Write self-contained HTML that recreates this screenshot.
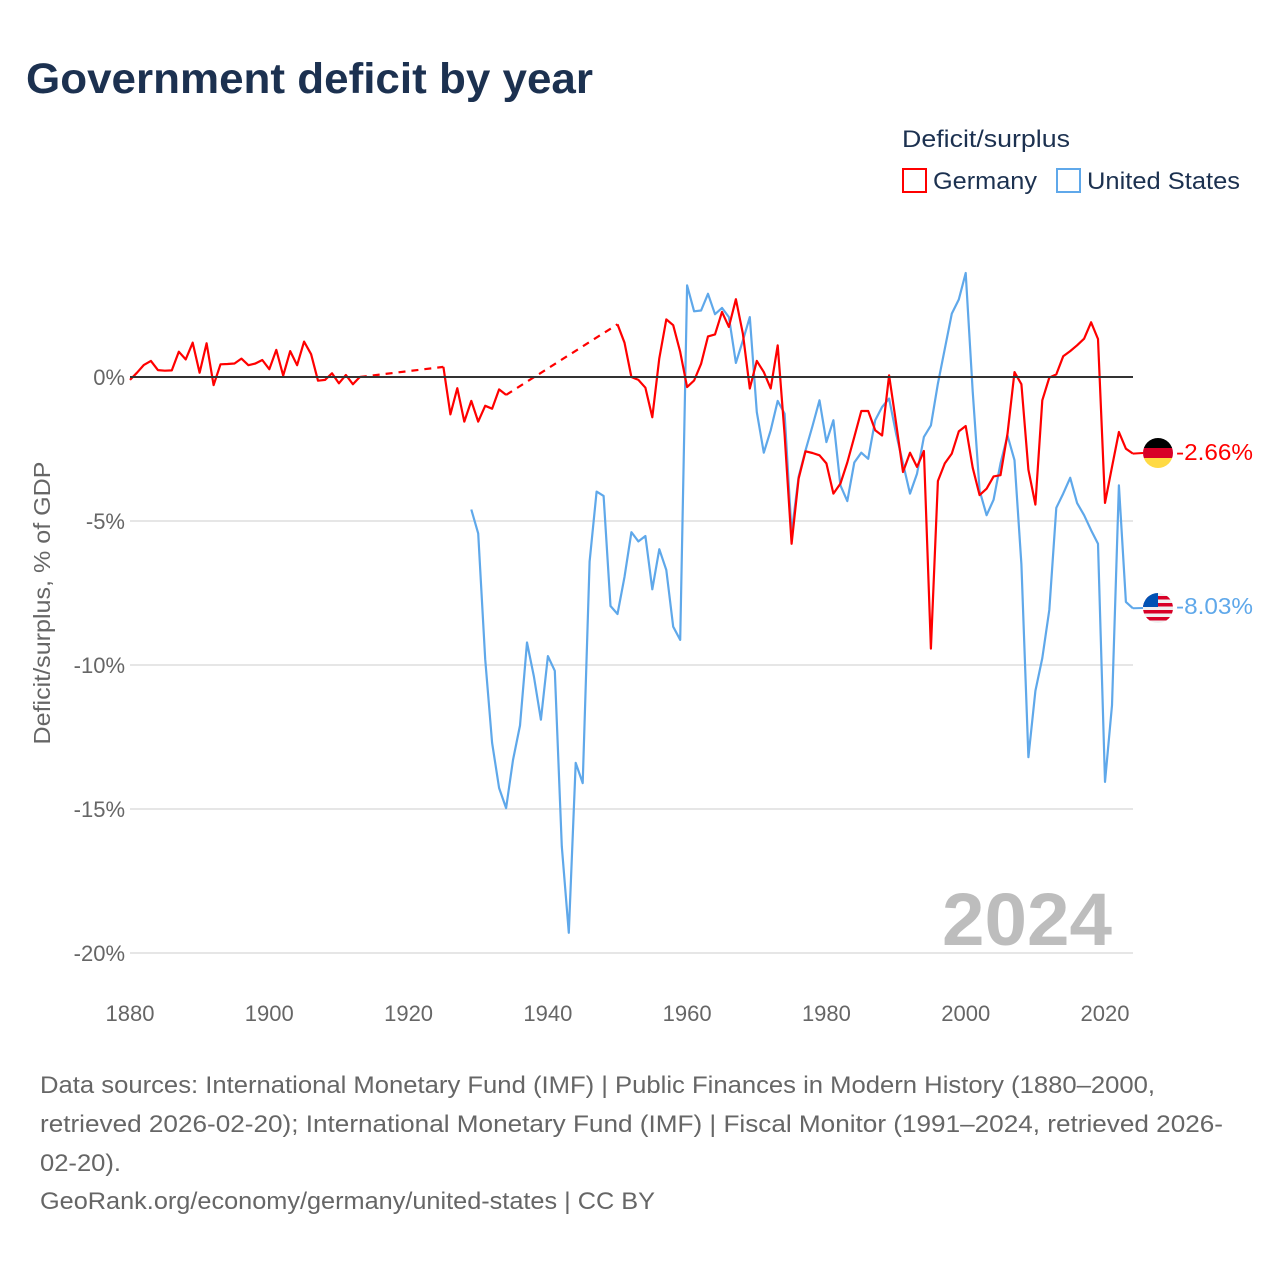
<!DOCTYPE html>
<html><head><meta charset="utf-8"><style>
body{margin:0;background:#fff;font-family:"Liberation Sans",sans-serif;}
#wrap{position:relative;width:1280px;height:1280px;overflow:hidden;}
</style></head><body>
<div id="wrap">
<svg id="chart" width="1280" height="1280" xmlns="http://www.w3.org/2000/svg">
<text x="26" y="93" font-size="43" font-weight="bold" fill="#1c3150" textLength="567" lengthAdjust="spacingAndGlyphs">Government deficit by year</text>
<text x="902" y="147" font-size="24" fill="#1c3150" textLength="168" lengthAdjust="spacingAndGlyphs">Deficit/surplus</text>
<g>
<rect x="903" y="169" width="23" height="23" fill="none" stroke="#ff0000" stroke-width="2"/>
<text x="933" y="189" font-size="24" fill="#1c3150" textLength="104" lengthAdjust="spacingAndGlyphs">Germany</text>
</g>
<g>
<rect x="1057" y="169" width="23" height="23" fill="none" stroke="#5fa8ea" stroke-width="2"/>
<text x="1087" y="189" font-size="24" fill="#1c3150" textLength="153" lengthAdjust="spacingAndGlyphs">United States</text>
</g>
<g id="grid"></g>
<g id="yticks"></g>
<g id="xticks"></g>
<text transform="translate(50,603) rotate(-90)" text-anchor="middle" font-size="23" fill="#666" textLength="283" lengthAdjust="spacingAndGlyphs">Deficit/surplus, % of GDP</text>
<text x="1112" y="945" text-anchor="end" font-size="74" font-weight="bold" fill="#bdbdbd" textLength="170" lengthAdjust="spacingAndGlyphs">2024</text>
<g id="series"></g>
<g>
<clipPath id="cde"><circle cx="1158" cy="453" r="15"/></clipPath>
<g clip-path="url(#cde)"><rect x="1143" y="438" width="30" height="10" fill="#000"/><rect x="1143" y="448" width="30" height="10" fill="#d80027"/><rect x="1143" y="458" width="30" height="10" fill="#ffda44"/></g>
</g>
<text x="1176" y="460" font-size="23" fill="#ff0000" textLength="77" lengthAdjust="spacingAndGlyphs">-2.66%</text>
<g>
<clipPath id="cus"><circle cx="1158" cy="608" r="15"/></clipPath>
<g clip-path="url(#cus)"><rect x="1143" y="593" width="30" height="30" fill="#f0f0f0"/>
<rect x="1143" y="596" width="30" height="3.5" fill="#d80027"/><rect x="1143" y="603" width="30" height="3.5" fill="#d80027"/><rect x="1143" y="610" width="30" height="3.5" fill="#d80027"/><rect x="1143" y="617" width="30" height="3.5" fill="#d80027"/>
<rect x="1143" y="593" width="15" height="14" fill="#0052b4"/></g>
</g>
<text x="1176" y="614" font-size="23" fill="#5fa8ea" textLength="77" lengthAdjust="spacingAndGlyphs">-8.03%</text>
<g font-size="24" fill="#666">
<text x="40" y="1093" textLength="1115" lengthAdjust="spacingAndGlyphs">Data sources: International Monetary Fund (IMF) | Public Finances in Modern History (1880–2000,</text>
<text x="40" y="1132" textLength="1183" lengthAdjust="spacingAndGlyphs">retrieved 2026-02-20); International Monetary Fund (IMF) | Fiscal Monitor (1991–2024, retrieved 2026-</text>
<text x="40" y="1171" textLength="81" lengthAdjust="spacingAndGlyphs">02-20).</text>
<text x="40" y="1209" textLength="615" lengthAdjust="spacingAndGlyphs">GeoRank.org/economy/germany/united-states | CC BY</text>
</g>
</svg>
</div>
<script>
const yTicks=[0,-5,-10,-15,-20];
const yTickLabels=["0%","-5%","-10%","-15%","-20%"];
const xTicks=[1880,1900,1920,1940,1960,1980,2000,2020];
const deEarlyStart=1880;
const deEarly=[-0.1,0.15,0.42,0.56,0.24,0.22,0.23,0.88,0.61,1.19,0.15,1.17,-0.28,0.44,0.45,0.47,0.64,0.41,0.47,0.59,0.27,0.94,0.05,0.9,0.41,1.23,0.79,-0.13,-0.1,0.13,-0.22,0.07,-0.25,0.0];
const deMidYears=[1925,1926,1927,1928,1929,1930,1931,1932,1933,1934];
const deMid=[0.35,-1.3,-0.39,-1.55,-0.83,-1.55,-1.0,-1.1,-0.43,-0.62];
const deLateStart=1950;
const deLate=[1.83,1.19,0.0,-0.1,-0.37,-1.4,0.65,2.0,1.8,0.87,-0.35,-0.12,0.46,1.41,1.48,2.26,1.74,2.7,1.5,-0.4,0.56,0.17,-0.4,1.1,-2.0,-5.79,-3.53,-2.58,-2.64,-2.72,-3.0,-4.05,-3.7,-2.97,-2.08,-1.18,-1.18,-1.85,-2.03,0.06,-1.6,-3.3,-2.63,-3.12,-2.57,-9.43,-3.61,-3.0,-2.66,-1.89,-1.7,-3.15,-4.1,-3.88,-3.45,-3.41,-1.97,0.17,-0.25,-3.22,-4.43,-0.81,-0.02,0.09,0.72,0.9,1.1,1.33,1.9,1.32,-4.37,-3.12,-1.91,-2.49,-2.66];
const usStart=1929;
const usValues=[-4.6,-5.43,-9.8,-12.7,-14.27,-14.97,-13.3,-12.1,-9.22,-10.4,-11.9,-9.69,-10.2,-16.3,-19.3,-13.4,-14.1,-6.41,-3.98,-4.13,-7.95,-8.23,-6.94,-5.39,-5.71,-5.52,-7.37,-5.98,-6.7,-8.67,-9.13,3.18,2.28,2.31,2.89,2.18,2.4,2.08,0.49,1.27,2.08,-1.22,-2.63,-1.85,-0.83,-1.27,-5.42,-3.47,-2.55,-1.7,-0.81,-2.26,-1.5,-3.76,-4.31,-2.97,-2.63,-2.84,-1.5,-1.04,-0.75,-1.97,-3.0,-4.05,-3.36,-2.08,-1.68,-0.23,0.98,2.2,2.69,3.61,-0.5,-3.94,-4.8,-4.26,-3.0,-2.03,-2.89,-6.5,-13.2,-10.9,-9.76,-8.09,-4.54,-4.05,-3.5,-4.38,-4.8,-5.32,-5.79,-14.06,-11.4,-3.76,-7.81,-8.03];

const NS="http://www.w3.org/2000/svg";
function xS(yr){return 130+(yr-1880)*(975/140);}
function yS(v){return 377-v*28.8;}
function mk(tag,attrs,parent){const e=document.createElementNS(NS,tag);for(const k in attrs)e.setAttribute(k,attrs[k]);parent.appendChild(e);return e;}
const grid=document.getElementById('grid'),yt=document.getElementById('yticks'),xt=document.getElementById('xticks'),ser=document.getElementById('series');
yTicks.forEach((v,i)=>{
  if(v!==0){const l=mk('line',{x1:130,x2:1133,y1:yS(v),y2:yS(v),stroke:'#e6e6e6','stroke-width':2},grid);
  
  }
  const t=mk('text',{x:125,y:yS(v)+8,'text-anchor':'end','font-size':22,fill:'#666'},yt);
  t.textContent=yTickLabels[i];
  
  
});
xTicks.forEach(yr=>{
  const t=mk('text',{x:xS(yr),y:1021,'text-anchor':'middle','font-size':22,fill:'#666'},xt);
  t.textContent=yr;
  
  
});
function pts(years,vals){return vals.map((v,i)=>xS(years[i]).toFixed(1)+','+yS(v).toFixed(1)).join(' ');}
function seq(s,n){return Array.from({length:n},(_,i)=>s+i);}
const deEarlyYears=seq(deEarlyStart,deEarly.length);
const deLateYears=seq(deLateStart,deLate.length);
const usYears=seq(usStart,usValues.length);
const us=mk('polyline',{points:pts(usYears,usValues),fill:'none',stroke:'#5fa8ea','stroke-width':2.2,'stroke-linejoin':'round'},ser);


const g1=mk('polyline',{points:pts(deEarlyYears,deEarly),fill:'none',stroke:'#ff0000','stroke-width':2.2,'stroke-linejoin':'round'},ser);


const gap1=mk('polyline',{points:pts([deEarlyYears[deEarlyYears.length-1],deMidYears[0]],[deEarly[deEarly.length-1],deMid[0]]),fill:'none',stroke:'#ff0000','stroke-width':2.2,'stroke-dasharray':'7,6'},ser);


const g2=mk('polyline',{points:pts(deMidYears,deMid),fill:'none',stroke:'#ff0000','stroke-width':2.2,'stroke-linejoin':'round'},ser);


const gap2=mk('polyline',{points:pts([deMidYears[deMidYears.length-1],deLateYears[0]],[deMid[deMid.length-1],deLate[0]]),fill:'none',stroke:'#ff0000','stroke-width':2.2,'stroke-dasharray':'7,6'},ser);


const g3=mk('polyline',{points:pts(deLateYears,deLate),fill:'none',stroke:'#ff0000','stroke-width':2.2,'stroke-linejoin':'round'},ser);


const z=mk('line',{x1:130,x2:1133,y1:yS(0),y2:yS(0),stroke:'#333','stroke-width':2},ser);


const c1=mk('line',{x1:xS(2024),y1:yS(deLate[deLate.length-1]),x2:1143,y2:453,stroke:'#ff0000','stroke-width':2},ser);


const c2=mk('line',{x1:xS(2024),y1:yS(usValues[usValues.length-1]),x2:1143,y2:608,stroke:'#5fa8ea','stroke-width':2},ser);


</script>
</body></html>
